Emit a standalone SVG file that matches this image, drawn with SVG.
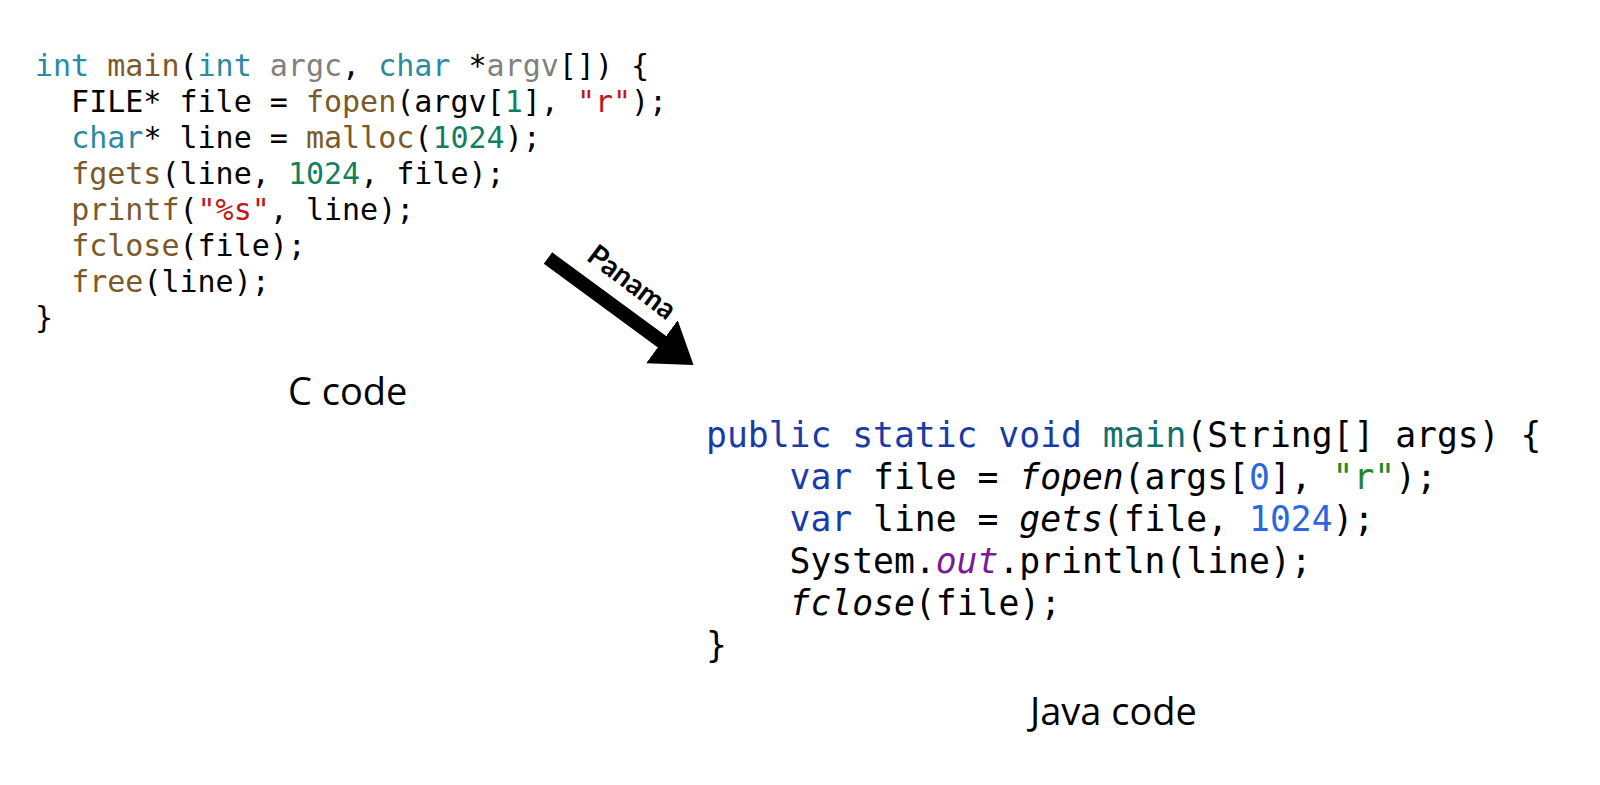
<svg xmlns="http://www.w3.org/2000/svg" width="1600" height="785" viewBox="0 0 1600 785">
<style>
.c{font-family:"DejaVu Sans Mono",monospace;font-size:30px;fill:#000;white-space:pre}
.j{font-family:"DejaVu Sans Mono",monospace;font-size:34.7px;fill:#000;white-space:pre}
.k{fill:#2a8aa0}.g{fill:#808080}.f{fill:#7a5a2a}.n{fill:#118060}.s{fill:#c01818}
.jb{fill:#1a3aa8}.jm{fill:#117070}.jn{fill:#2a66dd}.js{fill:#228822}.jp{fill:#7a1a9a}.i{font-style:italic}
.lbl{font-family:"Open Sans",sans-serif;font-size:38px;fill:#000}
</style>
<defs><marker id="ah" markerWidth="4" markerHeight="4" refX="1.6" refY="2" orient="auto" markerUnits="strokeWidth"><path d="M0,0.1 L2.8,2 L0,3.9 z" fill="#000"/></marker></defs>
<g id="c-code" xml:space="preserve">
<text class="c" x="35" y="76"><tspan class="k">int</tspan> <tspan class="f">main</tspan>(<tspan class="k">int</tspan> <tspan class="g">argc</tspan>, <tspan class="k">char</tspan> *<tspan class="g">argv</tspan>[]) {</text>
<text class="c" x="35" y="112">  FILE* file = <tspan class="f">fopen</tspan>(argv[<tspan class="n">1</tspan>], <tspan class="s">"r"</tspan>);</text>
<text class="c" x="35" y="148">  <tspan class="k">char</tspan>* line = <tspan class="f">malloc</tspan>(<tspan class="n">1024</tspan>);</text>
<text class="c" x="35" y="184">  <tspan class="f">fgets</tspan>(line, <tspan class="n">1024</tspan>, file);</text>
<text class="c" x="35" y="220">  <tspan class="f">printf</tspan>(<tspan class="s">"%s"</tspan>, line);</text>
<text class="c" x="35" y="256">  <tspan class="f">fclose</tspan>(file);</text>
<text class="c" x="35" y="292">  <tspan class="f">free</tspan>(line);</text>
<text class="c" x="35" y="328">}</text>
</g>
<g id="c-label"><text class="lbl" x="288" y="405">C code</text></g>
<g id="java-code" xml:space="preserve">
<text class="j" x="706" y="447"><tspan class="jb">public static void</tspan> <tspan class="jm">main</tspan>(String[] args) {</text>
<text class="j" x="706" y="489">    <tspan class="jb">var</tspan> file = <tspan class="i">fopen</tspan>(args[<tspan class="jn">0</tspan>], <tspan class="js">"r"</tspan>);</text>
<text class="j" x="706" y="531">    <tspan class="jb">var</tspan> line = <tspan class="i">gets</tspan>(file, <tspan class="jn">1024</tspan>);</text>
<text class="j" x="706" y="573">    System.<tspan class="jp i">out</tspan>.println(line);</text>
<text class="j" x="706" y="615">    <tspan class="i">fclose</tspan>(file);</text>
<text class="j" x="706" y="657">}</text>
</g>
<g id="java-label"><text class="lbl" x="1030" y="725">Java code</text></g>
<g id="connectors">
<line x1="548" y1="258" x2="680" y2="355" stroke="#000" stroke-width="14" marker-end="url(#ah)"/>
<text x="0" y="0" transform="translate(626,290) rotate(37)" text-anchor="middle" font-family="Lato,sans-serif" font-weight="bold" font-size="29">Panama</text>
</g>
</svg>
